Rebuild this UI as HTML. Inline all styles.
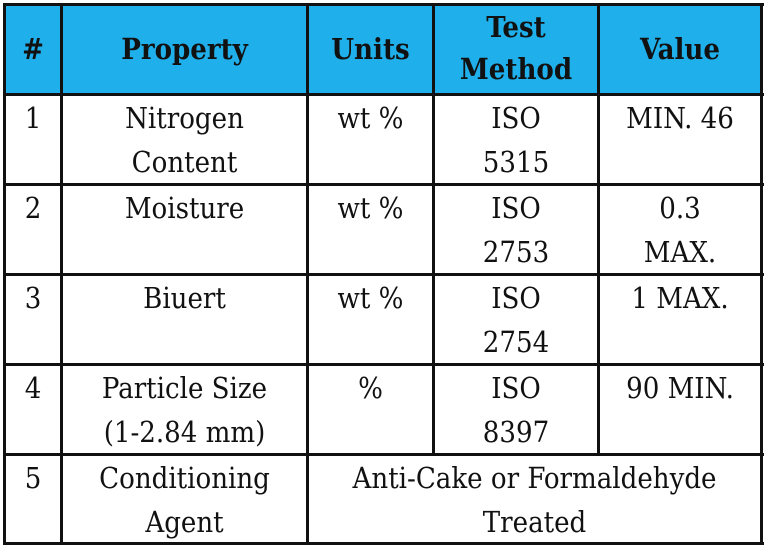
<!DOCTYPE html>
<html><head><style>
body{margin:0;width:768px;height:550px;background:#fff;overflow:hidden;color:#111;}
.h{position:absolute;background:#1fb0ec;left:4px;top:4px;width:757px;height:90px;}
.l{position:absolute;background:#111;}
.t{position:absolute;text-align:center;font-size:29px;line-height:44px;font-family:"DejaVu Serif Condensed","DejaVu Serif",serif;}
.b{font-weight:bold;}
</style></head><body>
<div class="h"></div>
<div class="l" style="left:3px;top:3px;width:761px;height:3px"></div>
<div class="l" style="left:3px;top:93px;width:761px;height:3px"></div>
<div class="l" style="left:3px;top:183px;width:761px;height:3px"></div>
<div class="l" style="left:3px;top:273px;width:761px;height:3px"></div>
<div class="l" style="left:3px;top:363px;width:761px;height:3px"></div>
<div class="l" style="left:3px;top:453px;width:761px;height:3px"></div>
<div class="l" style="left:3px;top:542px;width:761px;height:3px"></div>
<div class="l" style="left:3px;top:3px;width:3px;height:542px"></div>
<div class="l" style="left:60px;top:3px;width:3px;height:542px"></div>
<div class="l" style="left:306px;top:3px;width:3px;height:542px"></div>
<div class="l" style="left:432px;top:3px;width:3px;height:453px"></div>
<div class="l" style="left:597px;top:3px;width:3px;height:453px"></div>
<div class="l" style="left:760px;top:3px;width:3px;height:542px"></div>
<div class="t b" style="left:6px;width:54px;top:27px">#</div>
<div class="t b" style="left:63px;width:243px;top:27px">Property</div>
<div class="t b" style="left:309px;width:123px;top:27px">Units</div>
<div class="t b" style="left:435px;width:162px;top:6px;line-height:42px">Test<br>Method</div>
<div class="t b" style="left:600px;width:160px;top:27px">Value</div>
<div class="t" style="left:6px;width:54px;top:96px">1</div>
<div class="t" style="left:63px;width:243px;top:96px">Nitrogen<br>Content</div>
<div class="t" style="left:309px;width:123px;top:96px">wt %</div>
<div class="t" style="left:435px;width:162px;top:96px">ISO<br>5315</div>
<div class="t" style="left:600px;width:160px;top:96px">MIN. 46</div>
<div class="t" style="left:6px;width:54px;top:186px">2</div>
<div class="t" style="left:63px;width:243px;top:186px">Moisture</div>
<div class="t" style="left:309px;width:123px;top:186px">wt %</div>
<div class="t" style="left:435px;width:162px;top:186px">ISO<br>2753</div>
<div class="t" style="left:600px;width:160px;top:186px">0.3<br>MAX.</div>
<div class="t" style="left:6px;width:54px;top:276px">3</div>
<div class="t" style="left:63px;width:243px;top:276px">Biuert</div>
<div class="t" style="left:309px;width:123px;top:276px">wt %</div>
<div class="t" style="left:435px;width:162px;top:276px">ISO<br>2754</div>
<div class="t" style="left:600px;width:160px;top:276px">1 MAX.</div>
<div class="t" style="left:6px;width:54px;top:366px">4</div>
<div class="t" style="left:63px;width:243px;top:366px">Particle Size<br>(1-2.84 mm)</div>
<div class="t" style="left:309px;width:123px;top:366px">%</div>
<div class="t" style="left:435px;width:162px;top:366px">ISO<br>8397</div>
<div class="t" style="left:600px;width:160px;top:366px">90 MIN.</div>
<div class="t" style="left:6px;width:54px;top:456px">5</div>
<div class="t" style="left:63px;width:243px;top:456px">Conditioning<br>Agent</div>
<div class="t" style="left:309px;width:451px;top:456px">Anti-Cake or Formaldehyde<br>Treated</div>
</body></html>
